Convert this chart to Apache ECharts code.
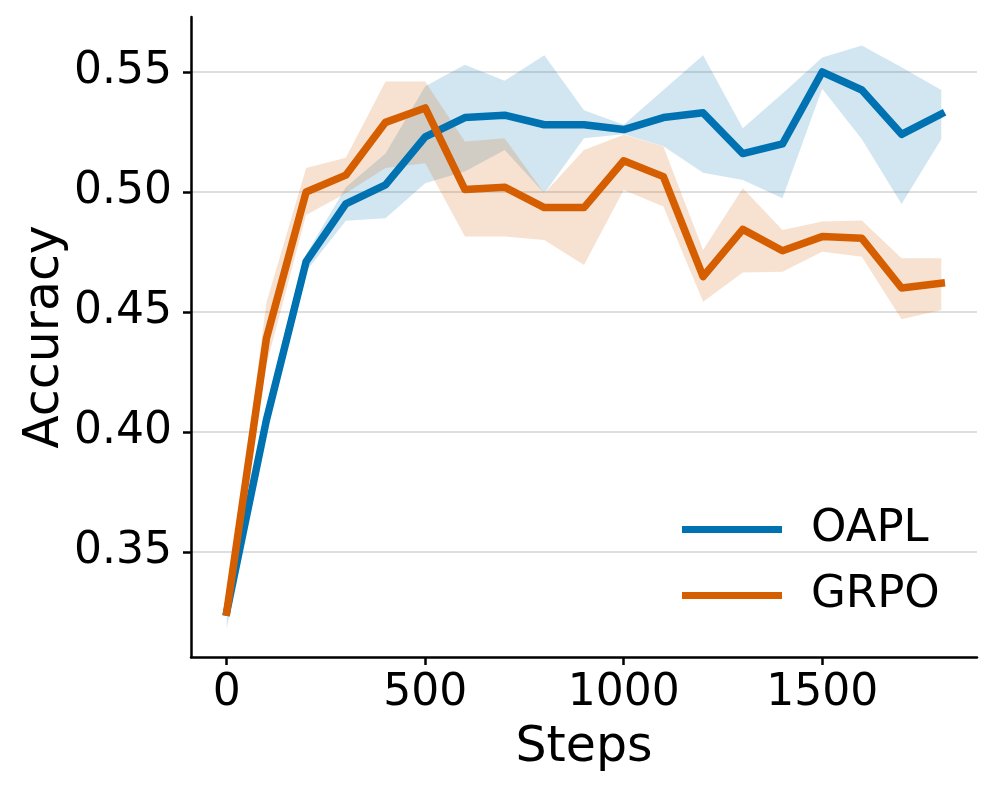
<!DOCTYPE html>
<html>
<head>
<meta charset="utf-8">
<script src="https://cdn.jsdelivr.net/npm/echarts@6/dist/echarts.min.js"></script>
<style>
html,body{margin:0;padding:0;background:#fff;}
#chart{width:997px;height:792px;}
</style>
</head>
<body>
<div id="chart"></div>
<script>
const steps = [0,100,200,300,400,500,600,700,800,900,1000,1100,1200,1300,1400,1500,1600,1700,1800];

const oaplMean  = [0.325,0.405,0.471,0.495,0.503,0.523,0.531,0.532,0.528,0.528,0.526,0.531,0.533,0.516,0.520,0.550,0.5425,0.524,0.5325];
const oaplLower = [0.318,0.401,0.467,0.488,0.489,0.5036,0.5085,0.5175,0.4995,0.5224,0.524,0.519,0.508,0.505,0.4974,0.543,0.522,0.495,0.522];
const oaplUpper = [0.330,0.409,0.474,0.502,0.516,0.544,0.553,0.5463,0.557,0.534,0.528,0.5425,0.557,0.5265,0.541,0.556,0.561,0.552,0.5425];

const grpoMean  = [0.325,0.439,0.500,0.507,0.529,0.535,0.501,0.502,0.4935,0.4935,0.513,0.5064,0.4647,0.4844,0.4755,0.4814,0.4807,0.460,0.462];
const grpoLower = [0.323,0.428,0.4904,0.4995,0.510,0.512,0.4814,0.4814,0.480,0.4696,0.5008,0.4939,0.4543,0.4665,0.4668,0.4751,0.473,0.447,0.4508];
const grpoUpper = [0.327,0.454,0.510,0.5143,0.546,0.546,0.521,0.5224,0.4995,0.5175,0.5238,0.5189,0.4758,0.5015,0.4842,0.4877,0.4881,0.4724,0.4724];

const xTicks = [0,500,1000,1500];
const yTicks = [0.35,0.40,0.45,0.50,0.55];

const BLUE = '#0072B2';
const ORANGE = '#D55E00';
const FONT = 'DejaVu Sans';

function pairs(ys){ return steps.map((s,i)=>[s, ys[i]]); }
function triples(lo, up){ return steps.map((s,i)=>[s, lo[i], up[i]]); }

function bandSeries(name, lo, up, color){
  const rows = triples(lo, up);
  return {
    name: name+'_band', type:'custom', data: rows, silent:true, z:1,
    encode:{x:0, y:[1,2]},
    renderItem:(params, api)=>{
      if (params.dataIndex !== 0) return null;
      const top = rows.map(r=>api.coord([r[0], r[2]]));
      const bot = rows.map(r=>api.coord([r[0], r[1]])).reverse();
      return {
        type:'polygon',
        shape:{points: top.concat(bot)},
        style:{fill: color, opacity:0.18, stroke:'none'}
      };
    }
  };
}

const chart = echarts.init(document.getElementById('chart'), null, {renderer:'canvas'});
chart.setOption({
  animation:false,
  backgroundColor:'#fff',
  textStyle:{fontFamily:FONT},
  grid:{left:191, right:20, top:17, bottom:135, containLabel:false},
  xAxis:{
    type:'value', min:-90, max:1890,
    name:'Steps', nameLocation:'middle', nameGap:67, nameMoveOverlap:false,
    nameTextStyle:{fontFamily:FONT, fontSize:49, color:'#000'},
    axisLine:{show:true, onZero:false, lineStyle:{color:'#000', width:2.5}},
    axisTick:{show:true, length:8, customValues:xTicks, lineStyle:{color:'#000', width:2.5}},
    axisLabel:{customValues:xTicks, fontFamily:FONT, fontSize:44, color:'#000', margin:15,
      formatter:(v)=>String(v)},
    splitLine:{show:false}
  },
  yAxis:{
    type:'value', min:0.30625, max:0.5729,
    name:'Accuracy', nameLocation:'middle', nameGap:121, nameMoveOverlap:false,
    nameTextStyle:{fontFamily:FONT, fontSize:49, color:'#000'},
    axisLine:{show:true, onZero:false, lineStyle:{color:'#000', width:2.5}},
    axisTick:{show:true, length:8, customValues:yTicks, lineStyle:{color:'#000', width:2.5}},
    axisLabel:{customValues:yTicks, fontFamily:FONT, fontSize:44, color:'#000', margin:19,
      formatter:(v)=>v.toFixed(2)},
    splitLine:{show:true, lineStyle:{color:'#dedede', width:2}}
  },
  legend:{
    orient:'vertical', left:677, top:502, itemGap:21,
    itemWidth:100, itemHeight:7, icon:'rect',
    textStyle:{fontFamily:FONT, fontSize:45, color:'#000', padding:[0,0,0,24]},
    data:['OAPL','GRPO']
  },
  series:[
    bandSeries('oapl', oaplLower, oaplUpper, BLUE),
    bandSeries('grpo', grpoLower, grpoUpper, ORANGE),
    {name:'OAPL', type:'line', data:pairs(oaplMean), symbol:'none', color:BLUE,
     lineStyle:{color:BLUE, width:7.5, cap:'square', join:'round'}, z:3},
    {name:'GRPO', type:'line', data:pairs(grpoMean), symbol:'none', color:ORANGE,
     lineStyle:{color:ORANGE, width:7.5, cap:'square', join:'round'}, z:4}
  ]
});
</script>
</body>
</html>
